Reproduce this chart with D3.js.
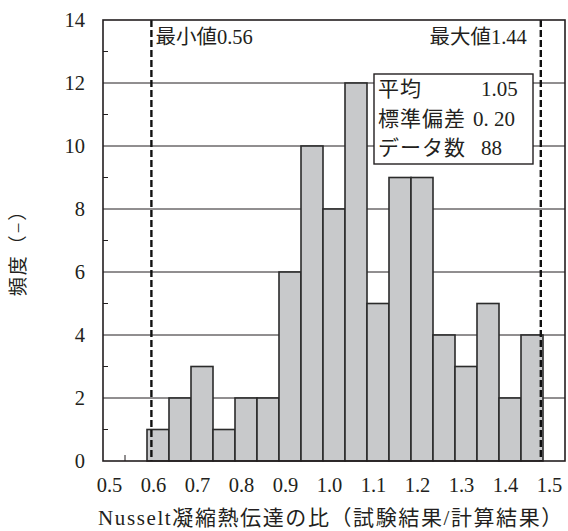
<!DOCTYPE html>
<html>
<head>
    <meta charset="utf-8" />
    <title>Nusselt histogram</title>
    <script src="https://cdn.jsdelivr.net/npm/d3@7"></script>
    <style>
        body { margin: 0; background: #fff; }
        svg text { font-family: "Liberation Serif", "Noto Sans CJK JP", serif; fill: #231f20; }
    </style>
</head>
<body>
    <svg id="chart" width="568" height="531"></svg>
    <script>
        // histogram bins (lower edge) and counts
        const binStarts = [0.60, 0.65, 0.70, 0.75, 0.80, 0.85, 0.90, 0.95, 1.00,
                           1.05, 1.10, 1.15, 1.20, 1.25, 1.30, 1.35, 1.40, 1.45];
        const counts = [1, 2, 3, 1, 2, 2, 6, 10, 8, 12, 5, 9, 9, 4, 3, 5, 2, 4];
        const binWidth = 0.05;

        const xTicks = [0.5, 0.6, 0.7, 0.8, 0.9, 1.0, 1.1, 1.2, 1.3, 1.4, 1.5];
        const yTicks = [0, 2, 4, 6, 8, 10, 12, 14];
        const yMinor = [1, 3, 5, 7, 9, 11, 13];

        const statLabels = ['平均', '標準偏差', 'データ数'];
        const statValues = ['1.05', '0. 20', '88'];
        const minLabel = '最小値0.56';
        const maxLabel = '最大値1.44';

        const xTitle = 'Nusselt凝縮熱伝達の比（試験結果/計算結果）';
        const yTitle = '頻度（−）';

        const pLeft = 103, pRight = 565, pTop = 20, pBottom = 461;
        const svg = d3.select('#chart');

        const x = d3.scaleLinear().domain([0.5, 1.55]).range([pLeft, pRight]);
        const y = d3.scaleLinear().domain([0, 14]).range([pBottom, pTop]);

        // gridlines at even values
        svg.append('g')
            .selectAll('line')
            .data(yTicks.slice(1, -1))
            .enter().append('line')
            .attr('x1', pLeft).attr('x2', pRight)
            .attr('y1', d => y(d)).attr('y2', d => y(d))
            .style('stroke', '#231f20')
            .style('stroke-width', 1);

        // minor ticks (inside)
        svg.append('g')
            .selectAll('line')
            .data(yMinor)
            .enter().append('line')
            .attr('x1', pLeft).attr('x2', pLeft + 5)
            .attr('y1', d => y(d)).attr('y2', d => y(d))
            .style('stroke', '#231f20');
        svg.append('g')
            .selectAll('line')
            .data([0.55])
            .enter().append('line')
            .attr('x1', d => x(d)).attr('x2', d => x(d))
            .attr('y1', pBottom).attr('y2', pBottom - 6)
            .style('stroke', '#231f20');

        // bars
        svg.append('g')
            .selectAll('rect')
            .data(counts)
            .enter().append('rect')
            .attr('x', (d, i) => x(binStarts[i]))
            .attr('y', d => y(d))
            .attr('width', (d, i) => x(binStarts[i] + binWidth) - x(binStarts[i]))
            .attr('height', d => y(0) - y(d))
            .style('fill', '#c8c9cb')
            .style('stroke', '#2b2b2b')
            .style('stroke-width', 1.6);

        // min / max dashed lines
        const markAt = [0.61, 1.495];
        svg.append('g')
            .selectAll('line')
            .data(markAt)
            .enter().append('line')
            .attr('x1', d => x(d)).attr('x2', d => x(d))
            .attr('y1', pTop).attr('y2', pBottom)
            .style('stroke', '#111')
            .style('stroke-width', 2.4)
            .style('stroke-dasharray', '7,3');

        svg.append('text')
            .attr('x', x(markAt[0]) + 4).attr('y', 44)
            .style('font-size', '20.5px')
            .text(minLabel);
        svg.append('text')
            .attr('x', x(markAt[1]) - 14).attr('y', 44)
            .attr('text-anchor', 'end')
            .style('font-size', '20.5px')
            .text(maxLabel);

        // plot frame
        svg.append('rect')
            .attr('x', pLeft).attr('y', pTop)
            .attr('width', pRight - pLeft).attr('height', pBottom - pTop)
            .style('fill', 'none')
            .style('stroke', '#231f20')
            .style('stroke-width', 1.6);

        // stats box
        const box = svg.append('g').attr('transform', 'translate(374,74)');
        box.append('rect')
            .attr('width', 159).attr('height', 90)
            .style('fill', '#fff')
            .style('stroke', '#231f20')
            .style('stroke-width', 1.4);
        box.selectAll('text.lab')
            .data(statLabels)
            .enter().append('text')
            .attr('class', 'lab')
            .attr('x', 4)
            .attr('y', (d, i) => 22 + i * 29.5)
            .style('font-size', '21px')
            .style('letter-spacing', '1px')
            .text(d => d);
        box.selectAll('text.val')
            .data(statValues)
            .enter().append('text')
            .attr('class', 'val')
            .attr('x', (d, i) => i === 1 ? 99 : 107)
            .attr('y', (d, i) => 22 + i * 29.5)
            .style('font-size', '21px')
            .text(d => d);

        // axes labels
        const xAxis = d3.axisBottom(x)
            .tickValues(xTicks)
            .tickSize(0)
            .tickPadding(16)
            .tickFormat(d3.format('.1f'));
        const gx = svg.append('g')
            .attr('transform', `translate(0,${pBottom})`)
            .call(xAxis);
        gx.select('.domain').remove();
        gx.selectAll('text')
            .attr('dx', 6)
            .style('font-size', '20.5px');

        const yAxis = d3.axisLeft(y)
            .tickValues(yTicks)
            .tickSize(0)
            .tickPadding(18);
        const gy = svg.append('g')
            .attr('transform', `translate(${pLeft},0)`)
            .call(yAxis);
        gy.select('.domain').remove();
        gy.selectAll('text')
            .style('font-size', '20.5px');

        svg.append('text')
            .attr('x', 331).attr('y', 525)
            .attr('text-anchor', 'middle')
            .style('font-size', '21px')
            .style('letter-spacing', '1.6px')
            .text(xTitle);

        svg.append('text')
            .attr('transform', 'translate(25,248) rotate(-90)')
            .attr('text-anchor', 'middle')
            .style('font-size', '19px')
            .style('letter-spacing', '2px')
            .text(yTitle);
    </script>
</body>
</html>
